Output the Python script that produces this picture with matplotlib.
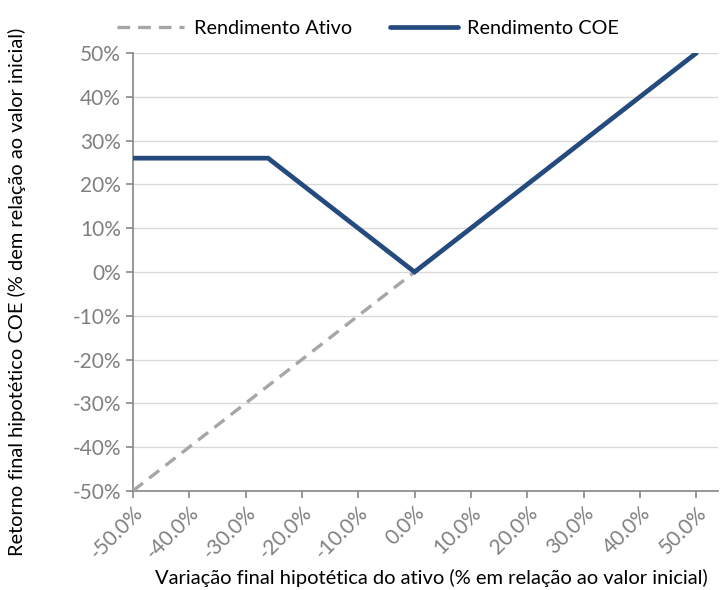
import matplotlib
matplotlib.use("Agg")
import matplotlib.pyplot as plt

plt.rcParams['font.family'] = ['Lato', 'DejaVu Sans']

# dados (%)
ativo_x = [-50, 0, 50]
ativo_y = [-50, 0, 50]
coe_x = [-50, -26, 0, 50]
coe_y = [26, 26, 0, 50]

x_ticks = [-50, -40, -30, -20, -10, 0, 10, 20, 30, 40, 50]
y_ticks = [-50, -40, -30, -20, -10, 0, 10, 20, 30, 40, 50]

gray_txt = '#808080'
axis_col = '#868686'

fig = plt.figure(figsize=(7.22, 5.90), dpi=100)
ax = fig.add_axes([0.184, 0.168, 0.81, 0.742])

ax.plot(ativo_x, ativo_y, color='#a6a6a6', lw=2.4, linestyle=(0, (3.8, 2.4)),
        label='Rendimento Ativo', zorder=3)
ax.plot(coe_x, coe_y, color='#254a7e', lw=3.4, solid_capstyle='round',
        solid_joinstyle='miter', label='Rendimento COE', zorder=4)

ax.set_xlim(-50, 53.8)
ax.set_ylim(-50, 50)
ax.set_xticks(x_ticks)
ax.set_xticklabels([f'{v:.1f}%' for v in x_ticks], rotation=45, ha='right',
                   rotation_mode='anchor')
ax.set_yticks(y_ticks)
ax.set_yticklabels([f'{v}%' for v in y_ticks])

ax.grid(axis='y', color='#d9d9d9', lw=1)
ax.set_axisbelow(True)
for s in ['top', 'right']:
    ax.spines[s].set_visible(False)
for s in ['left', 'bottom']:
    ax.spines[s].set_color(axis_col)
    ax.spines[s].set_linewidth(1.2)
ax.tick_params(axis='both', colors=axis_col, labelcolor=gray_txt,
               labelsize=15, length=5, width=1.2, direction='out')

ax.set_xlabel('Variação final hipotética do ativo (% em relação ao valor inicial)',
              fontsize=14.5)
ax.set_ylabel('Retorno final hipotético COE (% dem relação ao valor inicial)',
              fontsize=14.4)
ax.xaxis.set_label_coords(0.511, -0.178)
ax.yaxis.set_label_coords(-0.183, 0.455)

fig.legend(loc='center', bbox_to_anchor=(368 / 722, 1 - 28 / 590), ncol=2,
           frameon=False, fontsize=14.3, handlelength=3.4, columnspacing=1.9,
           handletextpad=0.5)

fig.savefig('out.png', dpi=100)
